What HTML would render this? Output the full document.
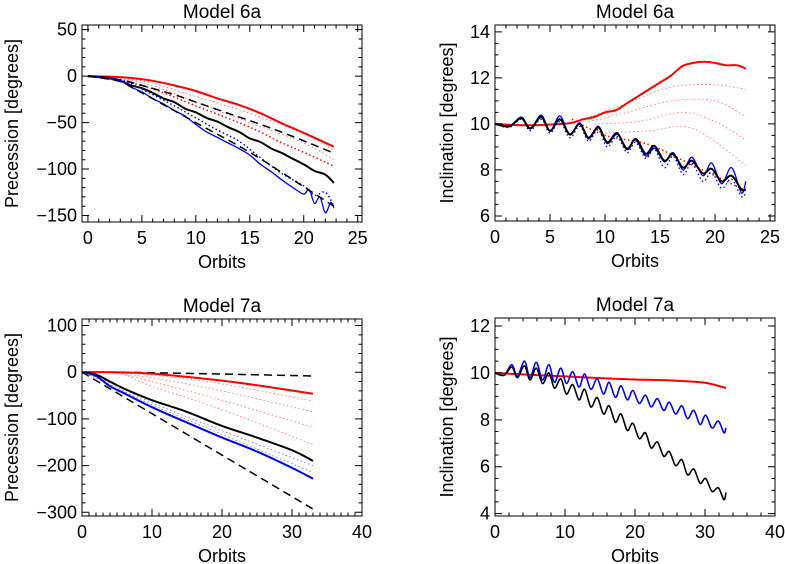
<!DOCTYPE html>
<html><head><meta charset="utf-8"><style>
body{margin:0;background:#fff}
svg{display:block;font-family:"Liberation Sans",sans-serif}
</style></head><body>
<svg id="c" width="785" height="564" xmlns="http://www.w3.org/2000/svg"></svg>
<script>
// ---- Panel 1 data (Model 6a precession)
const p1RedSolidX=[0,2,4,6,8,10,12,14,16,18,20,22.8];
const p1RedSolidY=[0,-0.5,-2,-5,-10,-16,-24,-31,-40,-51,-61,-76];
const p1DashUpX=[0,3,5,8,10,13,16,19,22.8];
const p1DashUpY=[0,-4,-10,-20,-28,-40,-52,-65,-83];
const p1BlackX=[0,2,3,4,5,6,7,8,9,10,11,12,13,14,15,16,17,18,19,20,21,22,22.8];
const p1BlackY=[0,-2,-5,-10,-13,-18,-24,-28,-35,-39,-45,-49,-55,-60,-67,-71,-78,-83,-89,-95,-102,-106,-115];
const p1DashLoX=[0,3,5,10,15,20,22.8];
const p1DashLoY=[0,-6,-18,-50,-82,-119,-140];
const p1BlueX=[0,2,3,4,5,6,7,8,9,10,11,12,13,14,15,16,17,18,19,20,20.5,21,21.5,22,22.5,22.8];
const p1BlueY=[0,-3,-5,-12,-17,-24,-30,-37,-43,-52,-60,-66,-72,-78,-85,-95,-103,-112,-120,-127,-122,-137,-130,-147,-136,-142];
const p1BlueDotX=[0,3,5,8,10,12,14,16,18,20,21,22,22.8];
const p1BlueDotY=[0,-4,-14,-32,-45,-58,-70,-88,-105,-118,-128,-125,-140];
const p1RedDot1X=[0,5,10,15,20,22.8], p1RedDot1Y=[0,-5,-22,-40,-62,-80];
const p1RedDot2X=[0,5,10,15,20,22.8], p1RedDot2Y=[0,-7,-28,-50,-72,-90];
const p1RedDot3X=[0,5,10,15,18,20,22.8], p1RedDot3Y=[0,-10,-32,-55,-72,-82,-97];
// ---- Panel 2 data (Model 6a inclination)
const p2RedX=[0,2,4,6,7,8,9,10,11,12,13,14,15,16,17,18,19,20,21,22,22.8];
const p2RedY=[10,9.95,9.95,10,10.05,10.2,10.3,10.5,10.6,10.9,11.2,11.5,11.8,12.1,12.5,12.65,12.7,12.65,12.55,12.55,12.4];
const p2BlackX=[0,1.3,2.4,3.2,4.2,5.0,5.9,6.8,7.7,8.5,9.4,10.2,11.1,12.0,12.8,13.7,14.5,15.4,16.2,17.1,17.9,18.9,19.7,20.6,21.5,22.4,22.8];
const p2BlackY=[10,9.9,10.25,9.8,10.3,9.7,10.2,9.55,10.0,9.4,9.85,9.2,9.6,8.9,9.35,8.7,9.05,8.4,8.7,8.1,8.4,7.85,8.05,7.5,7.75,7.15,7.15];
const p2BlueY=[10,9.88,10.3,9.78,10.38,9.68,10.35,9.52,10.05,9.35,9.9,9.15,9.55,8.95,9.3,8.6,8.95,8.35,8.75,8.0,8.55,7.75,8.3,7.4,8.1,7.0,7.5];
const p2BlueDotY=[10,9.85,10.2,9.7,10.2,9.6,10.1,9.4,9.9,9.25,9.75,9.0,9.45,8.75,9.2,8.5,8.9,8.1,8.6,7.8,8.3,7.5,7.9,7.2,7.6,6.85,7.0];
const p2Fan1X=[8,12,16,20,22.8], p2Fan1Y=[10.2,10.9,11.6,11.7,11.5];
const p2Fan2X=[8.5,12,16,20,22.8], p2Fan2Y=[10.1,10.5,11.0,11.0,10.3];
const p2Fan3X=[9,13,17,20,22.8], p2Fan3Y=[10.0,10.1,10.5,10.1,9.3];
const p2Fan4X=[10,14,18,22.8], p2Fan4Y=[9.6,9.7,9.8,8.2];
const p2Fan5X=[7,10,14,18,22.8], p2Fan5Y=[10.2,9.5,9.1,8.2,7.1];
// ---- Panel 3 data (Model 7a precession)
const p3DashUpX=[0,5,10,20,33], p3DashUpY=[0,0,-1,-4,-8];
const p3RedX=[0,5,10,15,20,25,33], p3RedY=[0,0,-3,-10,-18,-28,-46];
const p3Fan1X=[3,10,20,33], p3Fan1Y=[0,-6,-25,-62];
const p3Fan2X=[4,10,20,33], p3Fan2Y=[-1,-12,-40,-85];
const p3Fan3X=[5,10,20,33], p3Fan3Y=[-2,-20,-60,-118];
const p3Fan4X=[6,10,20,33], p3Fan4Y=[-3,-30,-80,-155];
const p3BlackX=[0,2,4,6,10,15,20,25,30,33], p3BlackY=[0,-5,-20,-35,-60,-85,-115,-140,-167,-190];
const p3BlueDot1X=[0,4,10,20,33], p3BlueDot1Y=[0,-22,-65,-125,-200];
const p3BlueDot2X=[0,4,10,20,33], p3BlueDot2Y=[0,-26,-70,-133,-215];
const p3BlueX=[0,2,4,6,10,15,20,25,30,33], p3BlueY=[0,-8,-30,-45,-75,-108,-140,-170,-205,-228];
const p3DashLoX=[0,33], p3DashLoY=[0,-293];
// ---- Panel 4 data (Model 7a inclination)
const p4RedX=[0,5,10,15,20,25,30,33], p4RedY=[10,9.92,9.85,9.78,9.72,9.68,9.58,9.35];
const p4OscX=[0,1.3,2.4,3.2,4.2,5.0,5.9,6.8,7.7,8.5,9.4,10.2,11.1,12.0,12.8,13.7,14.6,15.5,16.3,17.2,18.0,18.9,19.7,20.6,21.5,22.3,23.2,24.1,24.9,25.8,26.7,27.5,28.4,29.3,30.1,31.0,31.9,32.7,33];
const p4BlueY=[10,9.9,10.35,9.85,10.5,9.8,10.45,9.7,10.35,9.6,10.2,9.55,10.05,9.4,9.95,9.3,9.75,9.1,9.6,8.95,9.45,8.85,9.25,8.7,9.05,8.55,8.9,8.4,8.75,8.25,8.6,8.05,8.4,7.8,8.2,7.65,7.95,7.45,7.65];
const p4BlackY=[10,9.9,10.25,9.8,10.3,9.7,10.2,9.55,10.0,9.35,9.75,9.1,9.5,8.85,9.3,8.55,8.95,8.25,8.6,7.9,8.25,7.55,7.85,7.2,7.45,6.8,7.05,6.45,6.65,6.05,6.3,5.65,5.9,5.3,5.5,4.95,5.1,4.6,4.9];

const NS='http://www.w3.org/2000/svg';
const svg=document.getElementById('c');
function el(t,a,p){const e=document.createElementNS(NS,t);for(const k in a)e.setAttribute(k,a[k]);(p||svg).appendChild(e);return e;}
function smooth(pts){let d='M'+pts[0][0]+','+pts[0][1];for(let i=0;i<pts.length-1;i++){const p0=pts[i-1]||pts[i],p1=pts[i],p2=pts[i+1],p3=pts[i+2]||p2;const c1x=p1[0]+(p2[0]-p0[0])/6,c1y=p1[1]+(p2[1]-p0[1])/6,c2x=p2[0]-(p3[0]-p1[0])/6,c2y=p2[1]-(p3[1]-p1[1])/6;d+=' C'+c1x.toFixed(1)+','+c1y.toFixed(1)+' '+c2x.toFixed(1)+','+c2y.toFixed(1)+' '+p2[0].toFixed(1)+','+p2[1].toFixed(1);}return d;}

function panel(cfg){
  const g=el('g',{});
  
  
  const L=cfg.box[0],T=cfg.box[1],R=cfg.box[2],B=cfg.box[3];
  const sx=v=>L+(v-cfg.xr[0])/(cfg.xr[1]-cfg.xr[0])*(R-L);
  const sy=v=>B-(v-cfg.yr[0])/(cfg.yr[1]-cfg.yr[0])*(B-T);
  const clip='clip'+cfg.id;
  const cp=el('clipPath',{id:clip},g);el('rect',{x:L,y:T,width:R-L,height:B-T},cp);
  const sg=el('g',{'clip-path':'url(#'+clip+')'},g);
  cfg.series.forEach(s=>{
    const pts=s.x.map((x,i)=>[sx(x),sy(s.y[i])]);
    const p=el('path',{d:smooth(pts),fill:'none',stroke:s.c,'stroke-width':s.w,'stroke-dasharray':s.dash||'none','stroke-linejoin':'round'},sg);
    
    
  });
  const box=el('rect',{x:L,y:T,width:R-L,height:B-T,fill:'none',stroke:'#000','stroke-width':1},g);
  
  
  const tk=[];
  for(let v=cfg.xmin0;v<=cfg.xr[1]+1e-9;v+=cfg.xminor){const x=sx(v);if(x<L-0.5||x>R+0.5)continue;const maj=Math.abs(v/cfg.xmajor-Math.round(v/cfg.xmajor))<1e-6;const l=maj?7:3.5;tk.push(`M${x},${B}v${-l}M${x},${T}v${l}`);}
  for(let v=cfg.ymin0;v<=cfg.yr[1]+1e-9;v+=cfg.yminor){const y=sy(v);if(y<T-0.5||y>B+0.5)continue;const maj=Math.abs(v/cfg.ymajor-Math.round(v/cfg.ymajor))<1e-6;const l=maj?7:3.5;tk.push(`M${L},${y}h${l}M${R},${y}h${-l}`);}
  el('path',{d:tk.join(''),stroke:'#000','stroke-width':1,fill:'none'},g);
  cfg.xticks.forEach(v=>{const t=el('text',{x:sx(v),y:B+22,'text-anchor':'middle','font-size':18},g);t.textContent=v;
    
    });
  cfg.yticks.forEach(v=>{const t=el('text',{x:L-5,y:sy(v)+6,'text-anchor':'end','font-size':18},g);t.textContent=String(v).replace('-','\u2212');
    
    });
  const tt=el('text',{x:(L+R)/2,y:T-7,'text-anchor':'middle','font-size':19},g);tt.textContent=cfg.title;
  
  
  const xt=el('text',{x:(L+R)/2,y:B+46,'text-anchor':'middle','font-size':18},g);xt.textContent='Orbits';
  
  
  const yt=el('text',{x:0,y:0,'text-anchor':'middle','font-size':18,transform:`translate(${cfg.ytx},${(T+B)/2}) rotate(-90)`},g);yt.textContent=cfg.ytitle;
  
  
}
const RD='1.5,2.5';
panel({id:1,name:'panel-6a-precession',box:[82,25,362,222],xr:[-0.55,25.4],yr:[-157,55],xmin0:0,xminor:1,xmajor:5,ymin0:-150,yminor:10,ymajor:50,
 xticks:[0,5,10,15,20,25],yticks:[50,0,-50,-100,-150],title:'Model  6a',ytitle:'Precession  [degrees]',ytx:18,
 series:[
  {n:'red-dotted-1',x:p1RedDot1X,y:p1RedDot1Y,c:'#f55',w:0.8,dash:RD},
  {n:'red-dotted-2',x:p1RedDot2X,y:p1RedDot2Y,c:'#f55',w:0.8,dash:RD},
  {n:'red-dotted-3',x:p1RedDot3X,y:p1RedDot3Y,c:'#f00',w:1.5,dash:RD},
  {n:'red-solid',x:p1RedSolidX,y:p1RedSolidY,c:'#f00',w:2},
  {n:'black-dashed-upper',x:p1DashUpX,y:p1DashUpY,c:'#000',w:1.5,dash:'8,5'},
  {n:'black-solid',x:p1BlackX,y:p1BlackY,c:'#000',w:2},
  {n:'blue-dotted',x:p1BlueDotX,y:p1BlueDotY,c:'#00f',w:1.5,dash:RD},
  {n:'blue-solid',x:p1BlueX,y:p1BlueY,c:'#00f',w:1.3},
  {n:'black-dashed-lower',x:p1DashLoX,y:p1DashLoY,c:'#000',w:1.5,dash:'8,5'}]});
panel({id:2,name:'panel-6a-inclination',box:[495,25,775,221],xr:[0,25.45],yr:[5.78,14.3],xmin0:0,xminor:1,xmajor:5,ymin0:6,yminor:0.5,ymajor:2,
 xticks:[0,5,10,15,20,25],yticks:[14,12,10,8,6],title:'Model  6a',ytitle:'Inclination  [degrees]',ytx:453,
 series:[
  {n:'red-fan-1',x:p2Fan1X,y:p2Fan1Y,c:'#f66',w:0.8,dash:RD},
  {n:'red-fan-2',x:p2Fan2X,y:p2Fan2Y,c:'#f66',w:0.8,dash:RD},
  {n:'red-fan-3',x:p2Fan3X,y:p2Fan3Y,c:'#f66',w:0.8,dash:RD},
  {n:'red-fan-4',x:p2Fan4X,y:p2Fan4Y,c:'#f66',w:0.8,dash:RD},
  {n:'red-fan-5',x:p2Fan5X,y:p2Fan5Y,c:'#f00',w:1.5,dash:RD},
  {n:'red-solid',x:p2RedX,y:p2RedY,c:'#f00',w:2},
  {n:'blue-dotted',x:p2BlackX,y:p2BlueDotY,c:'#00f',w:1.3,dash:RD},
  {n:'blue-solid',x:p2BlackX,y:p2BlueY,c:'#00f',w:1.3},
  {n:'black-solid',x:p2BlackX,y:p2BlackY,c:'#000',w:2}]});
panel({id:3,name:'panel-7a-precession',box:[82,319,362,516],xr:[0,40],yr:[-308,114],xmin0:0,xminor:1,xmajor:10,ymin0:-300,yminor:20,ymajor:100,
 xticks:[0,10,20,30,40],yticks:[100,0,-100,-200,-300],title:'Model  7a',ytitle:'Precession  [degrees]',ytx:18,
 series:[
  {n:'red-fan-1',x:p3Fan1X,y:p3Fan1Y,c:'#f66',w:0.8,dash:RD},
  {n:'red-fan-2',x:p3Fan2X,y:p3Fan2Y,c:'#f66',w:0.8,dash:RD},
  {n:'red-fan-3',x:p3Fan3X,y:p3Fan3Y,c:'#f66',w:0.8,dash:RD},
  {n:'red-fan-4',x:p3Fan4X,y:p3Fan4Y,c:'#f66',w:0.8,dash:RD},
  {n:'black-dashed-upper',x:p3DashUpX,y:p3DashUpY,c:'#000',w:1.5,dash:'8,5'},
  {n:'red-solid',x:p3RedX,y:p3RedY,c:'#f00',w:2},
  {n:'blue-dotted-1',x:p3BlueDot1X,y:p3BlueDot1Y,c:'#66f',w:0.8,dash:RD},
  {n:'blue-dotted-2',x:p3BlueDot2X,y:p3BlueDot2Y,c:'#66f',w:0.8,dash:RD},
  {n:'black-solid',x:p3BlackX,y:p3BlackY,c:'#000',w:2},
  {n:'blue-solid',x:p3BlueX,y:p3BlueY,c:'#00f',w:2},
  {n:'black-dashed-lower',x:p3DashLoX,y:p3DashLoY,c:'#000',w:1.5,dash:'8,5'}]});
panel({id:4,name:'panel-7a-inclination',box:[495,318,775,516],xr:[0,40],yr:[3.9,12.34],xmin0:0,xminor:2,xmajor:10,ymin0:4,yminor:0.5,ymajor:2,
 xticks:[0,10,20,30,40],yticks:[12,10,8,6,4],title:'Model  7a',ytitle:'Inclination  [degrees]',ytx:453,
 series:[
  {n:'red-solid',x:p4RedX,y:p4RedY,c:'#f00',w:2},
  {n:'blue-solid',x:p4OscX,y:p4BlueY,c:'#00f',w:1.6},
  {n:'black-solid',x:p4OscX,y:p4BlackY,c:'#000',w:1.6}]});
</script>
</body></html>
